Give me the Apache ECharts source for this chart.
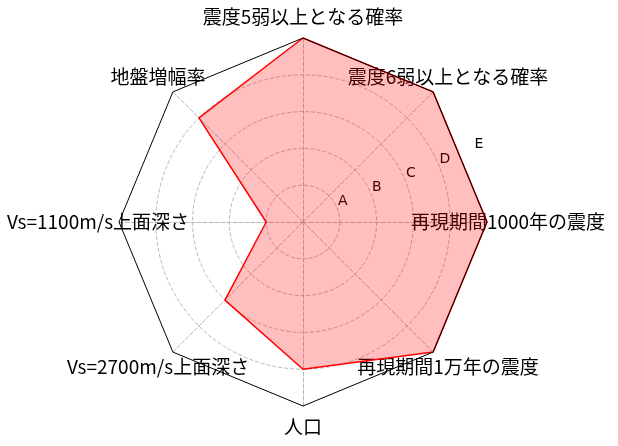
<!DOCTYPE html>
<html lang="ja">
<head>
    <meta charset="UTF-8">
    <title>レーダーチャート</title>
    <script src="https://cdn.jsdelivr.net/npm/echarts@6/dist/echarts.min.js"></script>
    <style>
        html, body { margin: 0; padding: 0; background: #fff; }
        #chart { width: 618px; height: 446px; }
    </style>
</head>
<body>
    <div id="chart"></div>

    <script>
        // 軸の項目（上から反時計回り）
        const categories = [
            '震度5弱以上となる確率',
            '地盤増幅率',
            'Vs=1100m/s上面深さ',
            'Vs=2700m/s上面深さ',
            '人口',
            '再現期間1万年の震度',
            '再現期間1000年の震度',
            '震度6弱以上となる確率'
        ];
        // 評価値（0〜5）
        const scores = [5, 4, 1, 3, 4, 5, 5, 5];
        // 目盛りラベル
        const tickLabels = ['', 'A', 'B', 'C', 'D', 'E'];
        const maxScore = 5;

        const jpFont = '"Liberation Sans Narrow", "Noto Sans CJK JP", sans-serif';
        const gridColor = '#b0b0b0';

        const chart = echarts.init(document.getElementById('chart'));

        const indicators = categories.map(name => ({ name: name, min: 0, max: maxScore }));

        const option = {
            animation: false,
            radar: [
                {
                    // 円形の点線グリッド
                    center: [303, 222],
                    radius: 184,
                    startAngle: 90,
                    shape: 'circle',
                    splitNumber: maxScore,
                    indicator: indicators,
                    axisName: {
                        color: '#000',
                        fontSize: 19,
                        fontFamily: jpFont,
                        align: 'center',
                        verticalAlign: 'middle'
                    },
                    nameGap: 21,
                    axisLine: { lineStyle: { color: gridColor, type: [4, 2], width: 0.9 } },
                    splitLine: {
                        lineStyle: {
                            color: [gridColor, gridColor, gridColor, gridColor, gridColor, 'rgba(0,0,0,0)'],
                            type: [4, 2],
                            width: 0.9
                        }
                    },
                    splitArea: { show: false }
                },
                {
                    // 外枠の八角形
                    center: [303, 222],
                    radius: 184,
                    startAngle: 90,
                    shape: 'polygon',
                    splitNumber: 1,
                    indicator: indicators,
                    z: 5,
                    axisName: { show: false },
                    axisLine: { show: false },
                    splitLine: { lineStyle: { color: '#000', width: 1 } },
                    splitArea: { show: false }
                }
            ],
            polar: {
                center: [303, 222],
                radius: [8, 192]
            },
            angleAxis: {
                type: 'value',
                min: 0,
                max: 360,
                startAngle: 22.5,
                show: false
            },
            radiusAxis: {
                type: 'category',
                data: tickLabels,
                boundaryGap: false,
                axisLine: { show: false },
                axisTick: { show: false },
                splitLine: { show: false },
                axisLabel: {
                    color: '#000',
                    fontSize: 14,
                    fontFamily: 'DejaVu Sans',
                    margin: 4,
                    align: 'center',
                    verticalAlign: 'middle'
                }
            },
            series: [
                {
                    type: 'radar',
                    radarIndex: 0,
                    symbol: 'none',
                    lineStyle: { color: '#ff0000', width: 1.5 },
                    areaStyle: { color: '#ff0000', opacity: 0.25 },
                    data: [{ value: scores }]
                }
            ]
        };

        chart.setOption(option);
    </script>
</body>
</html>
